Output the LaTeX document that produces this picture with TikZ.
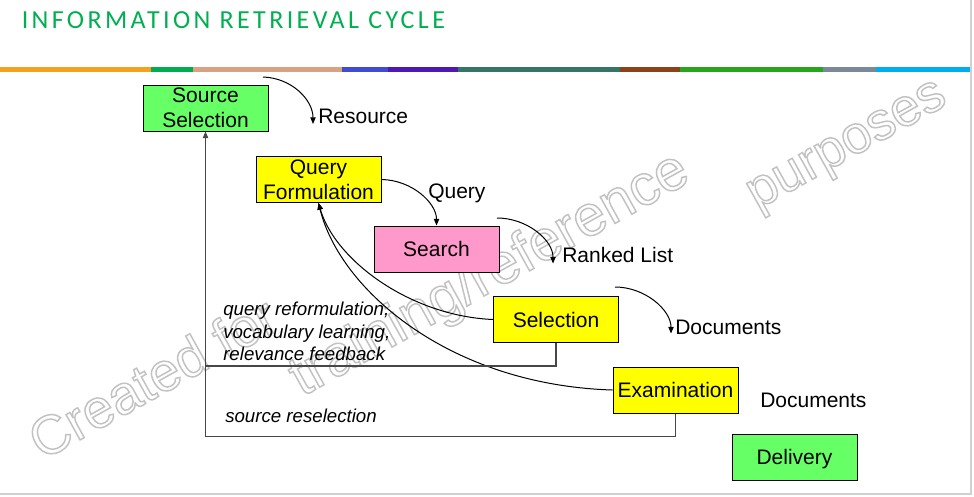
\documentclass[tikz,border=0pt]{standalone}
\usepackage{fontspec}
\setmainfont{Liberation Sans}
\newfontfamily\titlefont[LetterSpace=13]{Carlito}
\usetikzlibrary{arrows.meta}

\definecolor{titlegreen}{HTML}{00B050}
\definecolor{boxgreen}{HTML}{66FF66}
\definecolor{boxyellow}{HTML}{FFFF00}
\definecolor{boxpink}{HTML}{FF99CC}
\definecolor{barA}{HTML}{F4A11E}
\definecolor{barB}{HTML}{00AD4E}
\definecolor{barC}{HTML}{D9A283}
\definecolor{barD}{HTML}{3E4BD2}
\definecolor{barE}{HTML}{4F17B3}
\definecolor{barF}{HTML}{367565}
\definecolor{barG}{HTML}{8C4119}
\definecolor{barH}{HTML}{26A61A}
\definecolor{barI}{HTML}{7A8898}
\definecolor{barJ}{HTML}{00AEEF}

% outlined letters: white fill, light grey stroke (text render mode 2)
\newcommand\outlined[1]{{\color{white}%
  \special{pdf:literal direct 2 Tr 1.1 w 0.76 0.76 0.76 RG}#1%
  \special{pdf:literal direct 0 Tr}}}

\begin{document}
\begin{tikzpicture}[x=0.75pt,y=-0.75pt,
  box/.style={draw=black,line width=0.75pt,minimum width=93.75pt,
    minimum height=34.5pt,inner sep=0pt,align=center,
    font=\fontsize{15.75pt}{18.75pt}\selectfont},
  lbl/.style={anchor=base west,inner sep=0pt,
    font=\fontsize{15.75pt}{18.75pt}\selectfont},
  note/.style={anchor=base west,inner sep=0pt,
    font=\fontsize{14pt}{17.25pt}\selectfont\itshape},
  tip/.style={-{Triangle[length=5pt,width=4pt]}},
  flow/.style={tip,line width=0.75pt,black},
  loopline/.style={draw=black!72,line width=1pt},
  wm/.style={anchor=base west,inner sep=0pt,rotate=29},
]
\useasboundingbox (0,0) rectangle (974,496);
\fill[white] (0,0) rectangle (974,496);

% watermark
\node[wm,font=\fontsize{41pt}{41pt}\selectfont] (wmA) at (42,461) {\outlined{Created for}};
\node[wm,font=\fontsize{43pt}{43pt}\selectfont] (wmB) at (302,397) {\outlined{training/reference}};
\node[wm,font=\fontsize{40pt}{40pt}\selectfont] (wmC) at (757,210) {\outlined{purposes}};

% slide frame
\draw[black!18,line width=1.5pt] (970.5,0) -- (970.5,494) -- (0,494);

% title and colour bar
\node[anchor=base west,inner sep=0pt,text=titlegreen,
  font=\titlefont\fontsize{19.5pt}{19.5pt}\selectfont] (title) at (21.5,28.5)
  {INFORMATION RETRIEVAL CYCLE};
\foreach \a/\b/\c in {0/151/barA,151/193/barB,193/342/barC,342/388/barD,
  388/458/barE,458/620/barF,620/680/barG,680/823/barH,823/876/barI,876/970/barJ}
  \fill[\c] (\a,67) rectangle (\b,71.5);

% stages
\node[box,fill=boxgreen,font=\fontsize{15.75pt}{19pt}\selectfont] (src) at (205.5,108) {Source\\Selection};
\node[box,fill=boxyellow] (qf) at (318.5,179.5) {Query\\Formulation};
\node[box,fill=boxpink] (srch) at (436.5,249) {Search};
\node[box,fill=boxyellow] (sel) at (556,319.5) {Selection};
\node[box,fill=boxyellow] (exam) at (675.5,390) {Examination};
\node[box,fill=boxgreen,text depth=0pt] (dlv) at (794.5,457) {Delivery};

% outputs of the stages
\node[lbl] (lres) at (318,123) {Resource};
\node[lbl] (lqry) at (428,198) {Query};
\node[lbl] (lrank) at (562,262) {Ranked List};
\node[lbl] (ldoca) at (675,334) {Documents};
\node[lbl] (ldocb) at (760,407) {Documents};

\coordinate (resA) at (263,77);
\coordinate (resB) at (313,124);
\coordinate (rankA) at (497,218);
\coordinate (rankB) at (553,263.5);
\coordinate (docA) at (615,287);
\coordinate (docB) at (671,333.5);

\draw[flow] (resA) .. controls (292,78) and (313,100) .. (resB);
\draw[flow] (qf.east) .. controls (412,180) and (436.5,203) .. (srch.north);
\draw[flow] (rankA) .. controls (527,218) and (553,240) .. (rankB);
\draw[flow] (docA) .. controls (645,287) and (671,310) .. (docB);

% feedback to query formulation
\draw[flow] (sel.west) .. controls (410,316) and (335,260) .. (qf.south);
\draw[flow] (exam.west) .. controls (450,385) and (340,290) .. (qf.south);

% feedback to source selection
\coordinate (jA) at (205.5,366);
\coordinate (jB) at (205.5,436.5);
\draw[loopline] (sel.south) |- (jA);
\draw[loopline,tip] (exam.south) |- (jB) -- (src.south);

\node[note] (nA) at (223,315) {query reformulation,};
\node[note] (nB) at (223,338.5) {vocabulary learning,};
\node[note] (nC) at (223,360.5) {relevance feedback};
\node[note] (nD) at (225,422.5) {source reselection};
\end{tikzpicture}
\end{document}
